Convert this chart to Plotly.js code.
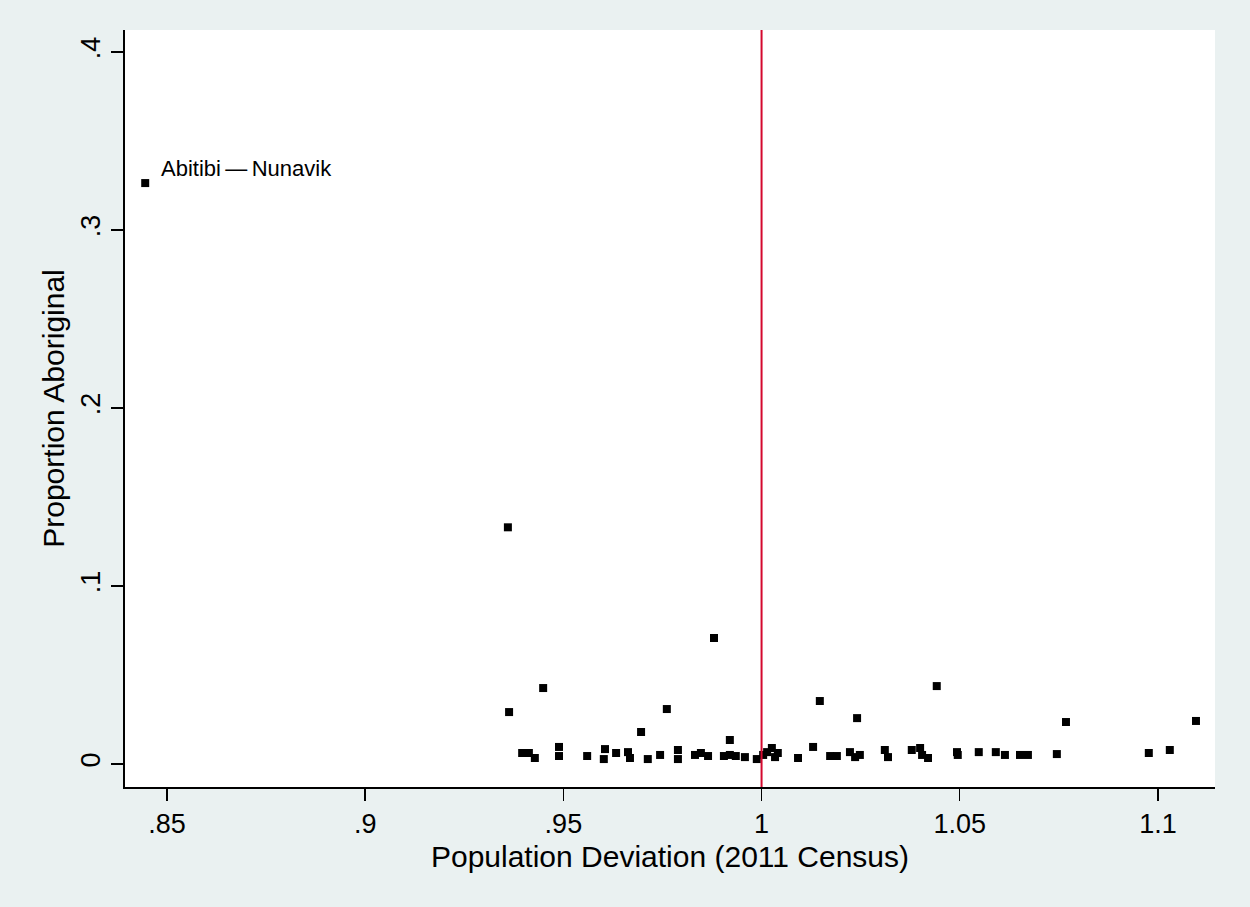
<!DOCTYPE html>
<html>
<head>
<meta charset="utf-8">
<script src="https://cdn.plot.ly/plotly-3.0.1.min.js"></script>
<style>html,body{margin:0;padding:0;background:#eaf1f1;}#chart{width:1250px;height:907px;}</style>
</head>
<body>
<div id="chart"></div>
<script>
// Population deviation (x) and proportion Aboriginal (y)
const deviation = [
  0.8445, 0.9360, 0.9880, 0.9449, 0.9363, 0.9761, 0.9696, 0.9920, 1.0147, 1.0241, 1.0442, 1.0768, 1.1096,
  0.9396, 0.9413, 0.9428, 0.9489, 0.9489, 0.9560, 0.9605, 0.9602, 0.9633, 0.9663, 0.9668,
  0.9713, 0.9744, 0.9789, 0.9789, 0.9832, 0.9847, 0.9865, 0.9905, 0.9920, 0.9935, 0.9958, 0.9988,
  1.0004, 1.0014, 1.0026, 1.0041, 1.0034, 1.0092, 1.0130, 1.0173, 1.0190, 1.0223, 1.0236, 1.0248,
  1.0311, 1.0319, 1.0379, 1.0400, 1.0405, 1.0420, 1.0493, 1.0495, 1.0548, 1.0591, 1.0614, 1.0652,
  1.0672, 1.0745, 1.0977, 1.1030
];
const propAboriginal = [
  0.3264, 0.1330, 0.0708, 0.0427, 0.0292, 0.0309, 0.0180, 0.0135, 0.0354, 0.0258, 0.0438, 0.0236, 0.0242,
  0.0062, 0.0062, 0.0034, 0.0096, 0.0045, 0.0045, 0.0084, 0.0028, 0.0062, 0.0067, 0.0034,
  0.0028, 0.0051, 0.0079, 0.0028, 0.0051, 0.0062, 0.0045, 0.0045, 0.0051, 0.0045, 0.0039, 0.0028,
  0.0051, 0.0067, 0.0090, 0.0062, 0.0039, 0.0034, 0.0096, 0.0045, 0.0045, 0.0067, 0.0039, 0.0051,
  0.0079, 0.0039, 0.0079, 0.0090, 0.0051, 0.0034, 0.0067, 0.0051, 0.0067, 0.0067, 0.0051, 0.0051,
  0.0051, 0.0056, 0.0062, 0.0079
];
const labelText = "Abitibi\u2009\u2014\u2009Nunavik";
const labelX = 0.8445, labelY = 0.3264;
const refLineX = 1;
const xTickVals = [0.85, 0.9, 0.95, 1, 1.05, 1.1];
const xTickText = [".85", ".9", ".95", "1", "1.05", "1.1"];
const yTickVals = [0, 0.1, 0.2, 0.3, 0.4];
const yTickText = ["0", ".1", ".2", ".3", ".4"];

const font = "Liberation Sans, Arial, sans-serif";

const traces = [{
  type: "scatter",
  mode: "markers",
  x: deviation,
  y: propAboriginal,
  marker: {symbol: "square", size: 8, color: "#000000"},
  hoverinfo: "x+y"
}];

const layout = {
  width: 1250, height: 907,
  paper_bgcolor: "#eaf1f1",
  plot_bgcolor: "#ffffff",
  margin: {l: 125, r: 35, t: 30, b: 120},
  showlegend: false,
  font: {family: font, color: "#000000", size: 22},
  xaxis: {
    range: [0.8394, 1.1144],
    tickvals: xTickVals, ticktext: xTickText,
    ticks: "outside", ticklen: 12, tickwidth: 1.5, tickcolor: "#000",
    showline: true, linecolor: "#000", linewidth: 2,
    showgrid: false, zeroline: false,
    tickfont: {family: font, size: 27},
    title: {text: "Population Deviation (2011 Census)", font: {family: font, size: 30}, standoff: 8}
  },
  yaxis: {
    range: [-0.0129, 0.4124],
    tickvals: yTickVals, ticktext: yTickText,
    tickangle: -90,
    ticks: "outside", ticklen: 12, tickwidth: 1.5, tickcolor: "#000",
    showline: true, linecolor: "#000", linewidth: 2,
    showgrid: false, zeroline: false,
    tickfont: {family: font, size: 27},
    title: {text: "Proportion Aboriginal", font: {family: font, size: 30}, standoff: 3}
  },
  shapes: [{
    type: "line", xref: "x", yref: "paper",
    x0: refLineX, x1: refLineX, y0: 0, y1: 1,
    line: {color: "#d4082e", width: 2}
  }],
  annotations: [{
    x: labelX, y: labelY, xref: "x", yref: "y",
    text: labelText, showarrow: false,
    xanchor: "left", yanchor: "middle",
    xshift: 14, yshift: 15,
    font: {family: font, size: 22, color: "#000"}
  }]
};

Plotly.newPlot("chart", traces, layout, {displayModeBar: false, staticPlot: true});
</script>
</body>
</html>
